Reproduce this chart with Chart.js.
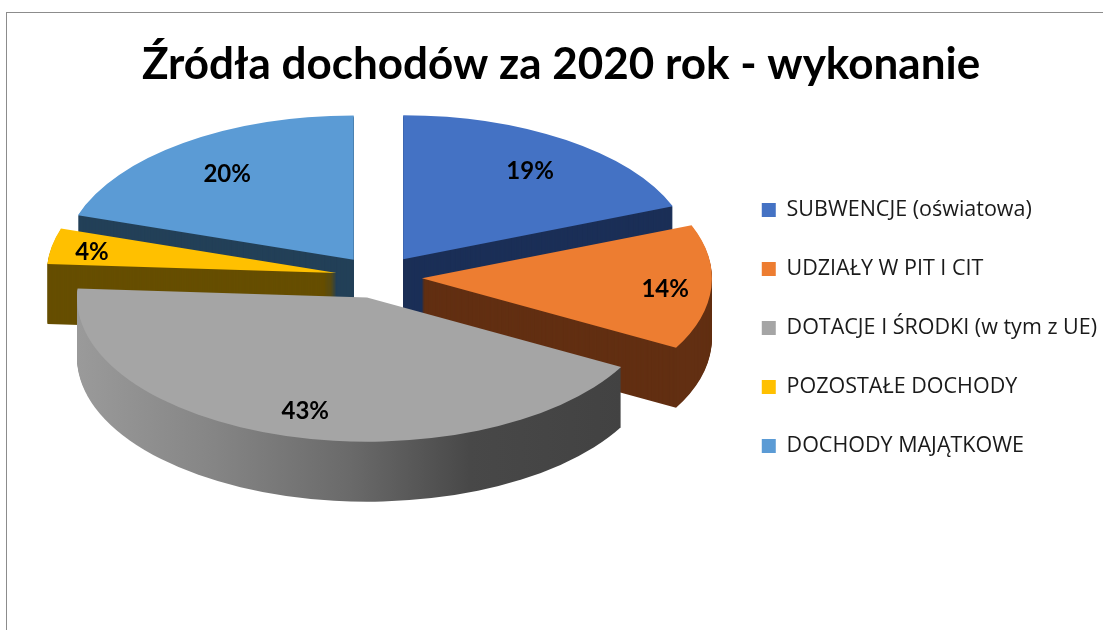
<!DOCTYPE html>
<html lang="pl">
<head>
<meta charset="utf-8">
<title>Źródła dochodów</title>
<script src="https://cdn.jsdelivr.net/npm/chart.js@4"></script>
<style>
    html, body { margin: 0; padding: 0; background: #fff; overflow: hidden; }
    #wrap { position: relative; width: 1103px; height: 630px; overflow: hidden; }
    #frame { position: absolute; left: 6px; top: 12px; width: 1200px; height: 700px; border: 1px solid #8c8c8c; }
    #wykres { position: absolute; left: 0; top: 0; }
</style>
</head>
<body>
<div id="wrap">
    <div id="frame"></div>
    <canvas id="wykres" width="1103" height="630"></canvas>
</div>
<script>
const tytul = 'Źródła dochodów za 2020 rok - wykonanie';
const kategorie = ['SUBWENCJE (oświatowa)', 'UDZIAŁY W PIT I CIT', 'DOTACJE I ŚRODKI (w tym z UE)', 'POZOSTAŁE DOCHODY', 'DOCHODY MAJĄTKOWE'];
const wartosci = [19, 14, 43, 4, 20];

const kolory = ['#4472c4', '#ed7d31', '#a5a5a5', '#ffc000', '#5b9bd5'];
const koloryBoku = ['#1b2f57', '#622f12', null, '#664e00', '#234058'];

// geometria "3D": wszystko w pikselach obrazka
const SRODEK_X = 379;
const SRODEK_Y = 277;
const SPLASZCZENIE = 0.497;
const GLEBOKOSC = 60;
const PROMIEN = 290;
const ODSUNIECIE = 43;

// kolejnosc rysowania: od tylu do przodu
const kolejnosc = [4, 0, 3, 1, 2];
// polozenie etykiet jako ulamek promienia
const etykietyR = [0.76, 0.83, 0.80, 0.87, 0.76];

function ustawPrzekroj(ctx, arc, dy) {
    // odsuniecie liczone tutaj, bo offset z Chart.js powieksza tez promien
    const kat = (arc.startAngle + arc.endAngle) / 2;
    const ox = Math.cos(kat) * ODSUNIECIE;
    const oy = Math.sin(kat) * ODSUNIECIE * SPLASZCZENIE;
    ctx.translate(SRODEK_X - arc.x + ox, SRODEK_Y + oy + dy);
    ctx.scale(1, SPLASZCZENIE);
    ctx.translate(0, -arc.y);
}

function rysujZKolorem(ctx, arc, kolor, dy) {
    const opts = arc.options;
    arc.options = Object.assign({}, opts, { backgroundColor: kolor });
    ctx.save();
    ustawPrzekroj(ctx, arc, dy);
    arc.draw(ctx);
    ctx.restore();
    arc.options = opts;
}

function gradientSzary(ctx, arc) {
    const kat = (arc.startAngle + arc.endAngle) / 2;
    const dx = arc.x - SRODEK_X - Math.cos(kat) * ODSUNIECIE;
    const g = ctx.createLinearGradient(78 + dx, 0, 622 + dx, 0);
    g.addColorStop(0, '#9a9a9a');
    g.addColorStop(0.25, '#858585');
    g.addColorStop(0.5, '#6a6a6a');
    g.addColorStop(0.72, '#484848');
    g.addColorStop(1, '#424242');
    return g;
}

const plugin3d = {
    id: 'plugin3d',
    beforeDatasetsDraw(chart) {
        const ctx = chart.ctx;
        const luki = chart.getDatasetMeta(0).data;

        kolejnosc.forEach(i => {
            const arc = luki[i];
            const bok = koloryBoku[i] || gradientSzary(ctx, arc);
            for (let k = GLEBOKOSC; k > 0; k--) {
                rysujZKolorem(ctx, arc, bok, k);
            }
            rysujZKolorem(ctx, arc, kolory[i], 0);
        });

        // etykiety procentowe
        ctx.save();
        ctx.font = 'bold 24px Lato';
        ctx.fillStyle = '#000';
        ctx.textAlign = 'center';
        ctx.textBaseline = 'middle';
        luki.forEach((arc, i) => {
            const kat = (arc.startAngle + arc.endAngle) / 2;
            const r = ODSUNIECIE + etykietyR[i] * arc.outerRadius;
            const x = SRODEK_X + Math.cos(kat) * r + 3;
            const y = SRODEK_Y + Math.sin(kat) * r * SPLASZCZENIE + 3;
            ctx.fillText(wartosci[i] + '%', x, y);
        });
        ctx.restore();

        return false;
    }
};

new Chart(document.getElementById('wykres').getContext('2d'), {
    type: 'pie',
    plugins: [plugin3d],
    data: {
        labels: kategorie,
        datasets: [{
            data: wartosci,
            backgroundColor: kolory,
            borderWidth: 0,
            clip: false
        }]
    },
    options: {
        responsive: false,
        animation: false,
        radius: PROMIEN,
        layout: { padding: { left: 15, right: -4, top: 0, bottom: -26 } },
        plugins: {
            tooltip: { enabled: false },
            title: {
                display: true,
                text: tytul,
                color: '#000',
                font: { family: 'Lato', weight: 'bold', size: 44 },
                padding: { top: 38, bottom: 0 }
            },
            legend: {
                position: 'right',
                labels: {
                    color: '#1a1a1a',
                    font: { family: 'Open Sans', size: 21.5 },
                    boxWidth: 14,
                    boxHeight: 14,
                    padding: 37.5
                }
            }
        }
    }
});
</script>
</body>
</html>
